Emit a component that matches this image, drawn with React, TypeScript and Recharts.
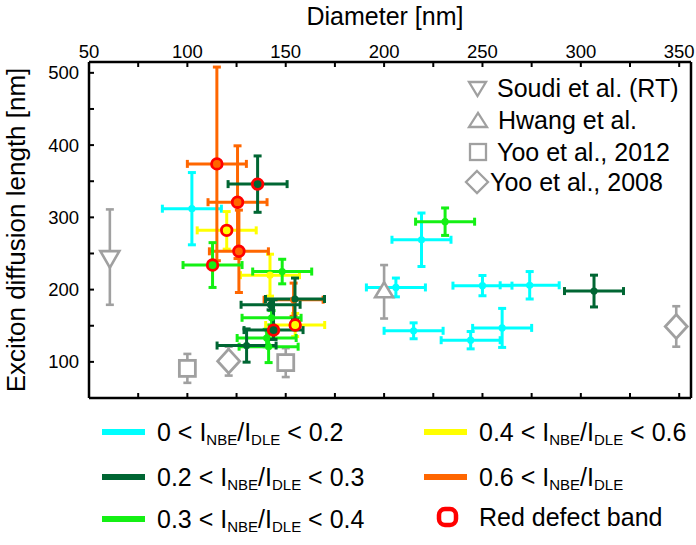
import React from 'react';
import { ScatterChart, Scatter, XAxis, YAxis, ErrorBar } from 'recharts';

const FONT = '"Liberation Sans", Arial, Helvetica, sans-serif';

// d = diameter [nm], l = exciton diffusion length [nm], ex/ey = error, red = red defect band
const cyanPoints = [
  { d: 102.3, l: 312, ex: 15, ey: 50, red: false },
  { d: 219, l: 269, ex: 15, ey: 37, red: false },
  { d: 206, l: 203, ex: 15, ey: 13, red: false },
  { d: 250, l: 205.5, ex: 15, ey: 14, red: false },
  { d: 274, l: 206, ex: 15, ey: 19, red: false },
  { d: 215, l: 143, ex: 15, ey: 11, red: false },
  { d: 244, l: 130, ex: 15, ey: 12, red: false },
  { d: 260, l: 147, ex: 15, ey: 27, red: false },
];

const darkGreenPoints = [
  { d: 135.7, l: 346, ex: 15, ey: 39, red: true },
  { d: 142.3, l: 179, ex: 15, ey: 7, red: false },
  { d: 143.8, l: 144, ex: 15, ey: [13, 42], red: true },
  { d: 130.1, l: 122.6, ex: 15, ey: 23, red: false },
  { d: 154.7, l: 187, ex: 15, ey: 29, red: false },
  { d: 306.7, l: 198, ex: 15, ey: 22, red: false },
];

const greenPoints = [
  { d: 112.8, l: 234, ex: 15, ey: 31, red: true },
  { d: 148.2, l: 225, ex: 15, ey: 17, red: false },
  { d: 231, l: 294, ex: 15, ey: 19, red: false },
  { d: 142.8, l: 161, ex: 15, ey: 10, red: false },
  { d: 140.3, l: 133, ex: 15, ey: 12, red: false },
  { d: 141.3, l: 121, ex: 15, ey: 22, red: false },
];

const yellowPoints = [
  { d: 120, l: 282, ex: 15, ey: 26, red: true },
  { d: 142, l: 220, ex: 15, ey: 29, red: false },
  { d: 154.8, l: 151, ex: 15, ey: 16, red: true },
];

const orangePoints = [
  { d: 115, l: 374, ex: 15, ey: 134, red: true },
  { d: 125.5, l: 321, ex: 15, ey: 78, red: true },
  { d: 126.2, l: 253, ex: 15, ey: 57, red: true },
  { d: 154, l: 186, ex: 15, ey: 23, red: false },
];

const soudiPoints = [{ d: 60.6, l: 245, ey: 66 }];
const hwangPoints = [{ d: 200, l: 197, ey: 37 }];
const yoo2012Points = [
  { d: 100, l: 91, ey: 20 },
  { d: 150, l: 99, ey: 20 },
];
const yoo2008Points = [
  { d: 121, l: 101, ey: 20 },
  { d: 348.5, l: 149, ey: 28 },
];

const X_DOMAIN: [number, number] = [50, 356];
const Y_DOMAIN: [number, number] = [50, 515];
const X_TICKS = [50, 75, 100, 125, 150, 175, 200, 225, 250, 275, 300, 325, 350];
const X_TICK_LABELS = ['50', '100', '150', '200', '250', '300', '350'];
const Y_TICKS = [100, 150, 200, 250, 300, 350, 400, 450, 500];
const Y_TICK_LABELS = ['100', '200', '300', '400', '500'];

const refLegend = ['Soudi et al. (RT)', 'Hwang et al.', 'Yoo et al., 2012', 'Yoo et al., 2008'];
const ratioLegendLeft = [
  { lo: '0', hi: '0.2' },
  { lo: '0.2', hi: '0.3' },
  { lo: '0.3', hi: '0.4' },
];
const ratioLegendRight = [
  { lo: '0.4', hi: '0.6' },
  { lo: '0.6', hi: '' },
];
const redLegendText = 'Red defect band';

const C = {
  cyan: '#00ffff',
  dark: '#006633',
  green: '#14f014',
  yellow: '#ffff00',
  orange: '#ff6600',
  gray: '#a0a0a0',
  red: '#ff0000',
};

const W = 696;
const H = 545;
const MARGIN = { top: 22, right: 4, bottom: 137, left: 29 };

const AXIS_LINE = { stroke: '#000', strokeWidth: 2.5 };
const TICK_LINE = { stroke: '#000', strokeWidth: 2 };
const TICK_STYLE = { fill: '#000', fontSize: 18.5, fontFamily: FONT };

const fmtX = (v: number) => (X_TICK_LABELS.includes(String(v)) ? String(v) : '');
const fmtY = (v: number) => (Y_TICK_LABELS.includes(String(v)) ? String(v) : '');

function makeDot(color: string) {
  return (p: any) => {
    const { cx, cy, payload } = p;
    if (cx == null || cy == null) return <g />;
    if (payload && payload.red) {
      return <circle cx={cx} cy={cy} r={5.3} fill={color} stroke={C.red} strokeWidth={2.8} />;
    }
    return <circle cx={cx} cy={cy} r={3.6} fill={color} />;
  };
}

const triDownShape = (p: any) => {
  const { cx, cy } = p;
  return (
    <polygon
      points={`${cx - 9.5},${cy - 6} ${cx + 9.5},${cy - 6} ${cx},${cy + 10.5}`}
      fill="#fff"
      stroke={C.gray}
      strokeWidth={2.6}
    />
  );
};
const triUpShape = (p: any) => {
  const { cx, cy } = p;
  return (
    <polygon
      points={`${cx - 9},${cy + 5.5} ${cx + 9},${cy + 5.5} ${cx},${cy - 9.5}`}
      fill="#fff"
      stroke={C.gray}
      strokeWidth={2.6}
    />
  );
};
const squareShape = (p: any) => {
  const { cx, cy } = p;
  return <rect x={cx - 8} y={cy - 8} width={16} height={16} fill="#fff" stroke={C.gray} strokeWidth={2.8} />;
};
const diamondShape = (p: any) => {
  const { cx, cy } = p;
  return (
    <polygon
      points={`${cx},${cy - 12} ${cx + 11},${cy} ${cx},${cy + 12} ${cx - 11},${cy}`}
      fill="#fff"
      stroke={C.gray}
      strokeWidth={2.8}
    />
  );
};

function colorSeries(name: string, data: any[], color: string) {
  return (
    <Scatter
      key={name}
      name={name}
      data={data}
      xAxisId="top"
      yAxisId="left"
      fill={color}
      shape={makeDot(color)}
      isAnimationActive={false}
    >
      <ErrorBar dataKey="ex" direction="x" width={4} stroke={color} strokeWidth={3} />
      <ErrorBar dataKey="ey" direction="y" width={4} stroke={color} strokeWidth={3} />
    </Scatter>
  );
}

function graySeries(name: string, data: any[], shape: any) {
  return (
    <Scatter
      key={name}
      name={name}
      data={data}
      xAxisId="top"
      yAxisId="left"
      fill="#fff"
      shape={shape}
      isAnimationActive={false}
    >
      <ErrorBar dataKey="ey" direction="y" width={4} stroke={C.gray} strokeWidth={2.6} />
    </Scatter>
  );
}

function RatioText({ x, y, lo, hi }: { x: number; y: number; lo: string; hi: string }) {
  const sub = 4;
  return (
    <text x={x} y={y} fontSize={25} fontFamily={FONT} fill="#000" style={{ whiteSpace: 'pre' }}>
      {`${lo} < I`}
      <tspan fontSize={15} dy={sub}>NBE</tspan>
      <tspan dy={-sub}>/I</tspan>
      <tspan fontSize={15} dy={sub}>DLE</tspan>
      {hi ? <tspan dy={-sub}>{` < ${hi}`}</tspan> : null}
    </text>
  );
}

function Overlay() {
  const leftColors = [C.cyan, C.dark, C.green];
  const rightColors = [C.yellow, C.orange];
  const rowsY = [432, 477, 519];
  const refRowsY = [88, 120, 152, 182];
  const refTextX = [497, 498, 497, 490];
  return (
    <svg
      width={W}
      height={H}
      style={{ position: 'absolute', left: 0, top: 0, pointerEvents: 'none' }}
    >
      <text x={385} y={25} textAnchor="middle" fontSize={25} fontFamily={FONT} fill="#000">
        Diameter [nm]
      </text>
      <text
        x={0}
        y={0}
        transform="translate(25,230) rotate(-90)"
        textAnchor="middle"
        fontSize={26}
        fontFamily={FONT}
        fill="#000"
      >
        Exciton diffusion length [nm]
      </text>

      <polygon points={`469,${refRowsY[0] - 6} 486,${refRowsY[0] - 6} 477.5,${refRowsY[0] + 8}`} fill="#fff" stroke={C.gray} strokeWidth={2.3} />
      <polygon points={`469,${refRowsY[1] + 7} 487,${refRowsY[1] + 7} 478,${refRowsY[1] - 7}`} fill="#fff" stroke={C.gray} strokeWidth={2.3} />
      <rect x={470} y={refRowsY[2] - 8} width={16} height={16} fill="#fff" stroke={C.gray} strokeWidth={2.3} />
      <polygon
        points={`477,${refRowsY[3] - 11} 488,${refRowsY[3]} 477,${refRowsY[3] + 11} 466,${refRowsY[3]}`}
        fill="#fff"
        stroke={C.gray}
        strokeWidth={2.3}
      />
      {refLegend.map((t, i) => (
        <text key={t} x={refTextX[i]} y={refRowsY[i] + 9} fontSize={25} fontFamily={FONT} fill="#000">
          {t}
        </text>
      ))}

      {ratioLegendLeft.map((r, i) => (
        <g key={'l' + i}>
          <line x1={102} x2={145} y1={rowsY[i]} y2={rowsY[i]} stroke={leftColors[i]} strokeWidth={6} />
          <RatioText x={157} y={rowsY[i] + 9} lo={r.lo} hi={r.hi} />
        </g>
      ))}
      {ratioLegendRight.map((r, i) => (
        <g key={'r' + i}>
          <line x1={424} x2={467} y1={rowsY[i]} y2={rowsY[i]} stroke={rightColors[i]} strokeWidth={6} />
          <RatioText x={479} y={rowsY[i] + 9} lo={r.lo} hi={r.hi} />
        </g>
      ))}
      <rect x={439} y={509} width={17} height={16} rx={6} ry={6} fill="#fff" stroke={C.red} strokeWidth={4.5} />
      <text x={479} y={517 + 9} fontSize={25} fontFamily={FONT} fill="#000">
        {redLegendText}
      </text>
    </svg>
  );
}

export default function App() {
  return (
    <div style={{ position: 'absolute', left: 0, top: 0, width: W, height: H, background: '#fff', fontFamily: FONT }}>
      <div style={{ position: 'absolute', left: 0, top: 0 }}>
        <ScatterChart width={W} height={H} margin={MARGIN}>
          <XAxis
            xAxisId="top"
            orientation="top"
            type="number"
            dataKey="d"
            domain={X_DOMAIN}
            ticks={X_TICKS}
            interval={0}
            allowDataOverflow
            height={40}
            tickSize={-5}
            tickMargin={9}
            tickFormatter={fmtX}
            axisLine={AXIS_LINE}
            tickLine={TICK_LINE}
            tick={TICK_STYLE}
          />
          <XAxis
            xAxisId="bottom"
            orientation="bottom"
            type="number"
            dataKey="d"
            domain={X_DOMAIN}
            ticks={X_TICKS}
            interval={0}
            allowDataOverflow
            height={10}
            tickSize={-5}
            tickFormatter={() => ''}
            axisLine={AXIS_LINE}
            tickLine={TICK_LINE}
            tick={TICK_STYLE}
          />
          <YAxis
            yAxisId="left"
            orientation="left"
            type="number"
            dataKey="l"
            domain={Y_DOMAIN}
            ticks={Y_TICKS}
            interval={0}
            allowDataOverflow
            width={60}
            tickSize={-5}
            tickMargin={15}
            tickFormatter={fmtY}
            axisLine={AXIS_LINE}
            tickLine={TICK_LINE}
            tick={TICK_STYLE}
          />
          <YAxis
            yAxisId="right"
            orientation="right"
            type="number"
            domain={Y_DOMAIN}
            allowDataOverflow
            width={1}
            tick={false}
            tickLine={false}
            axisLine={AXIS_LINE}
          />
          {graySeries('Soudi et al. (RT)', soudiPoints, triDownShape)}
          {graySeries('Hwang et al.', hwangPoints, triUpShape)}
          {graySeries('Yoo et al., 2012', yoo2012Points, squareShape)}
          {graySeries('Yoo et al., 2008', yoo2008Points, diamondShape)}
          {colorSeries('0 < ratio < 0.2', cyanPoints, C.cyan)}
          {colorSeries('0.4 < ratio < 0.6', yellowPoints, C.yellow)}
          {colorSeries('0.6 < ratio', orangePoints, C.orange)}
          {colorSeries('0.3 < ratio < 0.4', greenPoints, C.green)}
          {colorSeries('0.2 < ratio < 0.3', darkGreenPoints, C.dark)}
        </ScatterChart>
      </div>
      <Overlay />
    </div>
  );
}
